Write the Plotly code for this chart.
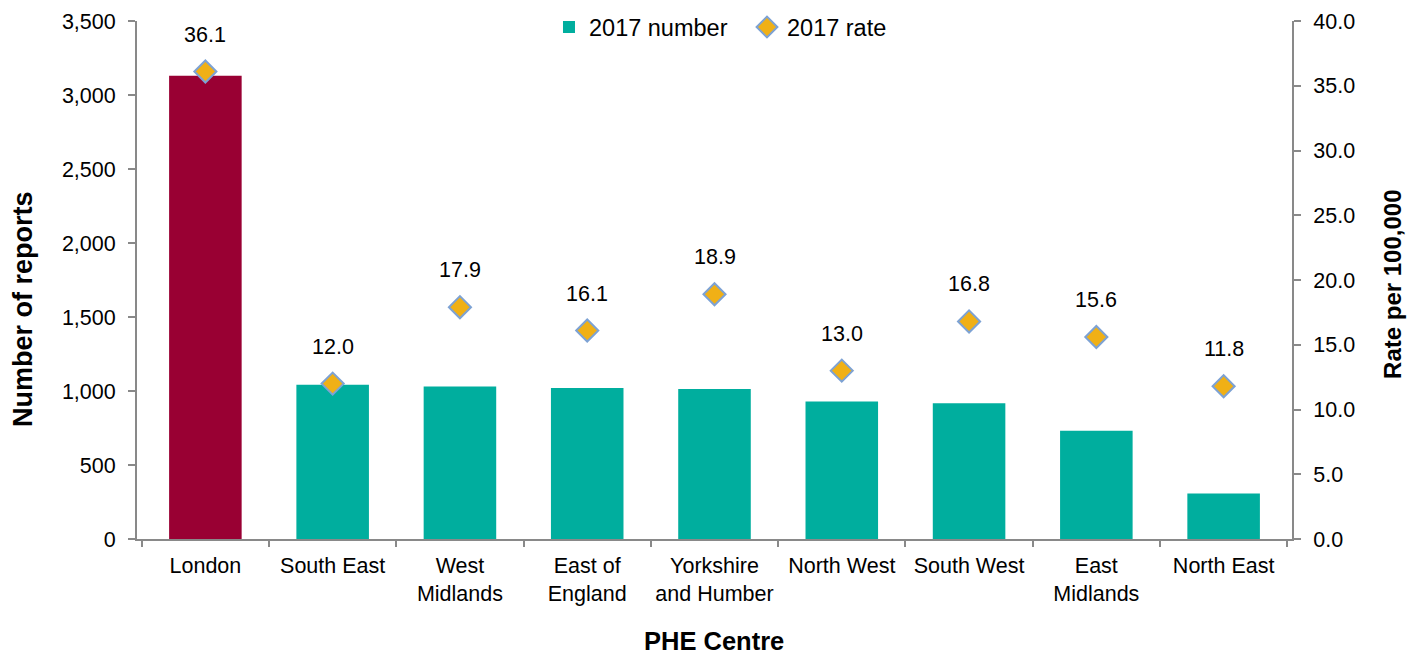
import plotly.graph_objects as go

# PHE centres and 2017 figures
centres = ["London", "South East", "West<br>Midlands", "East of<br>England",
           "Yorkshire<br>and Humber", "North West", "South West", "East<br>Midlands",
           "North East"]
reports_2017 = [3130, 1043, 1030, 1021, 1014, 929, 918, 731, 307]
rate_2017 = [36.1, 12.0, 17.9, 16.1, 18.9, 13.0, 16.8, 15.6, 11.8]

count_ticks = [0, 500, 1000, 1500, 2000, 2500, 3000, 3500]
rate_ticks = [0, 5, 10, 15, 20, 25, 30, 35, 40]

FONT = "Liberation Sans, Arial, sans-serif"
AXIS_GREY = "#898989"
TEAL = "#00AE9E"
CRIMSON = "#990033"
FS = 21.5

fig = go.Figure()
# London highlighted separately; the remaining centres carry the legend entry
fig.add_trace(go.Bar(
    x=centres[:1], y=reports_2017[:1], name="London", showlegend=False,
    marker=dict(color=CRIMSON, line=dict(width=0)), width=0.57, yaxis="y",
))
fig.add_trace(go.Bar(
    x=centres[1:], y=reports_2017[1:], name="2017 number",
    marker=dict(color=TEAL, line=dict(width=0)), width=0.57, yaxis="y",
))
fig.add_trace(go.Scatter(
    x=centres, y=rate_2017, name="2017 rate", mode="markers",
    marker=dict(symbol="diamond", size=17, color="#F0B016",
                line=dict(color="#7DA2D4", width=2)),
    yaxis="y2",
))

# rate labels above each diamond
for c, r in zip(centres, rate_2017):
    fig.add_annotation(x=c, y=r, yref="y2", text=f"{r:.1f}", showarrow=False,
                       yshift=37, font=dict(size=FS, color="#000000", family=FONT))

# axis titles
fig.add_annotation(x=-0.0987, y=0.444, xref="paper", yref="paper", xanchor="center", yanchor="middle",
                   text="<b>Number of reports</b>", textangle=-90, showarrow=False,
                   font=dict(size=27, color="#000000", family=FONT))
fig.add_annotation(x=1.0874, y=0.4923, xref="paper", yref="paper", xanchor="center", yanchor="middle",
                   text="<b>Rate per 100,000</b>", textangle=-90, showarrow=False,
                   font=dict(size=24, color="#000000", family=FONT))
fig.add_annotation(x=0.4996, y=-0.197, xref="paper", yref="paper", xanchor="center", yanchor="middle",
                   text="<b>PHE Centre</b>", showarrow=False, borderpad=0,
                   font=dict(size=25.5, color="#000000", family=FONT))

fig.update_layout(
    width=1416, height=655,
    margin=dict(l=137, r=124, t=21, b=116, autoexpand=False),
    paper_bgcolor="white", plot_bgcolor="white",
    font=dict(family=FONT, size=FS, color="#000000"),
    barmode="overlay",
    showlegend=True,
    legend=dict(orientation="h", x=0.3567, xanchor="left", y=0.988, yanchor="middle",
                font=dict(size=23.5), bgcolor="rgba(0,0,0,0)", itemwidth=30,
                entrywidth=153, entrywidthmode="pixels"),
    xaxis=dict(
        type="category", categoryorder="array", categoryarray=centres,
        showline=True, linecolor=AXIS_GREY, linewidth=2, tickangle=0, automargin=False,
        ticks="outside", tickson="boundaries", ticklen=6, tickcolor=AXIS_GREY, tickwidth=2,
        showgrid=False, tickfont=dict(size=FS), ticklabelstandoff=6,
    ),
    yaxis=dict(
        range=[0, 3500], tickvals=count_ticks, automargin=False,
        ticktext=[f"{v:,}" for v in count_ticks],
        showline=True, linecolor=AXIS_GREY, linewidth=2,
        ticks="outside", ticklen=7, tickcolor=AXIS_GREY, tickwidth=2,
        showgrid=False, zeroline=False, tickfont=dict(size=FS), ticklabelstandoff=8,
    ),
    yaxis2=dict(
        range=[0, 40], tickvals=rate_ticks, automargin=False,
        ticktext=[f"{v:.1f}" for v in rate_ticks],
        overlaying="y", side="right",
        showline=True, linecolor=AXIS_GREY, linewidth=2,
        ticks="outside", ticklen=7, tickcolor=AXIS_GREY, tickwidth=2,
        showgrid=False, zeroline=False, tickfont=dict(size=FS), ticklabelstandoff=8,
    ),
)

fig.write_html("out.html")
